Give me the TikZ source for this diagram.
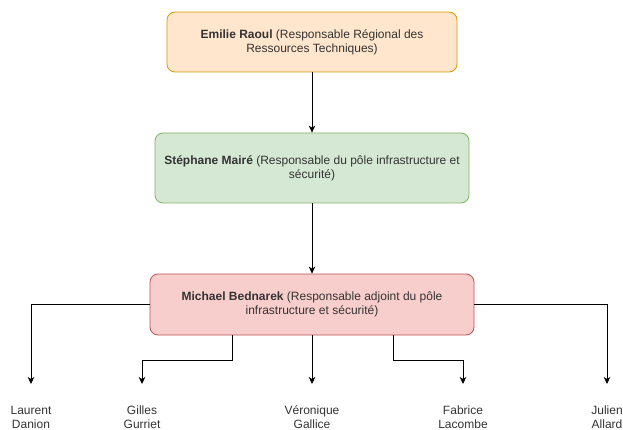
\documentclass[tikz,border=0pt]{standalone}
\usepackage{fontspec}
\setmainfont{Liberation Sans}
\usepackage{tikz}
\usetikzlibrary{positioning}
\usetikzlibrary{shapes.misc}
\usetikzlibrary{arrows.meta}

\definecolor{orangefill}{HTML}{FFE6CC}
\definecolor{orangeline}{HTML}{D79B00}
\definecolor{greenfill}{HTML}{D5E8D4}
\definecolor{greenline}{HTML}{82B366}
\definecolor{redfill}{HTML}{F8CECC}
\definecolor{redline}{HTML}{B85450}
\definecolor{texte}{HTML}{333333}

\tikzset{
  chef/.style={rectangle, rounded corners=8pt, line width=0.8pt, align=center, inner sep=0pt},
  agent/.style={align=center, anchor=north, inner xsep=0pt, inner ysep=19pt, text height=25pt},
  lien/.style={-{Stealth[length=7pt, width=6.5pt, inset=2pt]}, line width=0.8pt}
}

\begin{document}
\begin{tikzpicture}[x=1pt, y=-1pt, font=\fontsize{12}{14}\selectfont, text=texte]
                  \useasboundingbox (0,0) rectangle (623,430);
                  \node[chef, fill=orangefill, draw=orangeline, minimum width=290pt, minimum height=60pt] (raoul) at (312,42) {\textbf{Emilie Raoul} (Responsable Régional des\\Ressources Techniques)};
                  \node[chef, fill=greenfill, draw=greenline, minimum width=314pt, minimum height=70pt] (maire) at (312,168) {\textbf{Stéphane Mairé} (Responsable du pôle infrastructure et\\sécurité)};
                  \node[chef, fill=redfill, draw=redline, minimum width=324pt, minimum height=61pt] (bednarek) at (312,304.5) {\textbf{Michael Bednarek} (Responsable adjoint du pôle\\infrastructure et sécurité)};

                  \node[agent] (danion) at (31,384) {Laurent\\Danion};
                  \node[agent] (gurriet) at (142,384) {Gilles\\Gurriet};
                  \node[agent] (gallice) at (312,384) {Véronique\\Gallice};
                  \node[agent] (lacombe) at (463,384) {Fabrice\\Lacombe};
                  \node[agent] (allard) at (607,384) {Julien\\Allard};

                  \draw[lien] (raoul) -- (maire);
                  \draw[lien] (maire) -- (bednarek);
                  \draw[lien] (bednarek.west) -| (danion.north);
                  \draw[lien] ([xshift=-80pt]bednarek.south) |- ++(0,25) -| (gurriet.north);
                  \draw[lien] (bednarek) -- (gallice.north);
                  \draw[lien] ([xshift=81pt]bednarek.south) |- ++(0,25) -| (lacombe.north);
                  \draw[lien] (bednarek.east) -| (allard.north);
              \end{tikzpicture}
\end{document}
